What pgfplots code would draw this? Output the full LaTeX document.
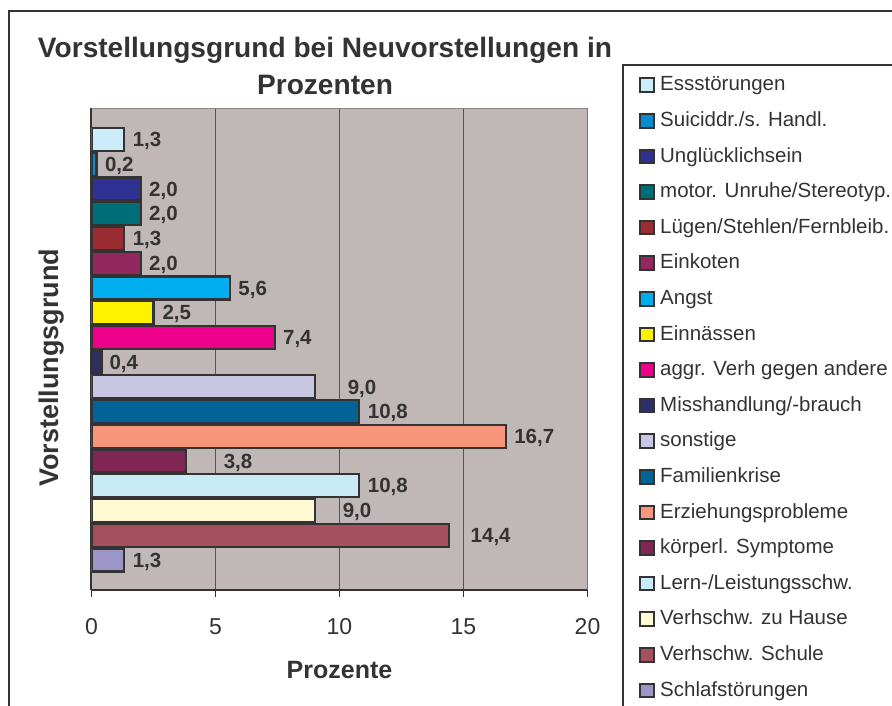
\documentclass[border=0pt]{standalone}
\usepackage{fontspec}
\setmainfont{Liberation Sans}
\usepackage{pgfplots}
\pgfplotsset{compat=1.18}

\definecolor{plotbg}{HTML}{C0B8B6}
\definecolor{plotframe}{HTML}{8E8484}
\definecolor{ink}{HTML}{333333}
\definecolor{gridc}{HTML}{555555}
\definecolor{cEss}{HTML}{CCECFA}
\definecolor{cSui}{HTML}{0A8CD2}
\definecolor{cUng}{HTML}{2E3192}
\definecolor{cMot}{HTML}{006E78}
\definecolor{cLue}{HTML}{9B2D32}
\definecolor{cEink}{HTML}{93285F}
\definecolor{cAngst}{HTML}{00AEEF}
\definecolor{cEinn}{HTML}{FFF200}
\definecolor{cAggr}{HTML}{EC008C}
\definecolor{cMiss}{HTML}{2E2F66}
\definecolor{cSon}{HTML}{C8C6E2}
\definecolor{cFam}{HTML}{006496}
\definecolor{cErz}{HTML}{F7967A}
\definecolor{cKoer}{HTML}{7F2654}
\definecolor{cLern}{HTML}{C9EBF8}
\definecolor{cHaus}{HTML}{FFF9D4}
\definecolor{cSchu}{HTML}{A5505C}
\definecolor{cSchl}{HTML}{9C96C8}

% one bar per series, as in the Excel original
\pgfplotsset{
  hb/.style 2 args={xbar, bar shift=0pt, bar width=23pt, draw=ink, line width=2.2pt, fill=#1,
    nodes near coords style={xshift=#2},
    legend image code/.code={\draw[##1, line width=2pt] (0pt,-1pt) rectangle (14pt,12.5pt);}},
}

\begin{document}
\begin{tikzpicture}
\useasboundingbox (0pt,0pt) rectangle (892pt,-706pt);
\clip (0pt,0pt) rectangle (892pt,-706pt);

% outer chart frame and legend frame (cut off at the image edge)
\draw[ink, line width=1.3pt] (9pt,-720pt) -- (9pt,-11pt) -- (900pt,-11pt);
\draw[ink, line width=1.3pt] (623pt,-720pt) -- (623pt,-65pt) -- (900pt,-65pt);

\node[anchor=base, text=ink, font=\bfseries\fontsize{28.1}{33}\selectfont] at (325pt,-58pt) {Vorstellungsgrund bei Neuvorstellungen in};
\node[anchor=base, text=ink, font=\bfseries\fontsize{28.1}{33}\selectfont] at (325pt,-95pt) {Prozenten};

\begin{axis}[
  at={(91.5pt,-590pt)}, anchor=south west,
  scale only axis, width=496pt, height=482pt,
  xmin=0, xmax=20, ymin=-0.213, ymax=19.273,
  axis x line*=bottom, axis y line*=left,
  axis line style={ink, line width=2pt},
  axis background/.style={fill=plotbg},
  xtick={0,5,10,15,20}, ytick=\empty,
  /pgf/number format/assume math mode=true,
  xmajorgrids, grid style={gridc, line width=1.1pt},
  tick align=outside, major tick length=7pt,
  tick style={ink, line width=1.1pt},
  xticklabel style={font=\fontsize{23}{27}\selectfont, text=ink, inner sep=0pt, anchor=north, yshift=-21pt},
  xlabel={Prozente},
  xlabel style={at={(axis description cs:0.5,-0.166)}, anchor=center, text depth=0pt,
    font=\bfseries\fontsize{25}{30}\selectfont, text=ink},
  ylabel={Vorstellungsgrund},
  ylabel style={at={(axis description cs:-0.0853,0.4606)}, anchor=center, rotate=0, text depth=0pt,
    font=\bfseries\fontsize{27}{32}\selectfont, text=ink},
  point meta=x,
  nodes near coords={\pgfmathprintnumber[fixed, fixed zerofill, precision=1, use comma, assume math mode=true]{\pgfplotspointmeta}},
  every node near coord/.append style={font=\bfseries\fontsize{20.5}{24}\selectfont, text=ink,
    anchor=west, inner sep=0pt, text depth=0pt},
  legend style={at={(axis description cs:1.1038,1.0670)}, anchor=north west,
    draw=none, fill=none, inner sep=0pt, column sep=5pt, row sep=16.1pt,
    font=\fontsize{20.5}{24}\selectfont, text=ink,
    nodes={inner sep=0pt, text height=15pt, text depth=4.5pt},
    cells={anchor=base west}},
]
\addplot[hb={cEss}{8pt}]     coordinates {(1.3,18)}; \addlegendentry{Essstörungen}
\addplot[hb={cSui}{7.5pt}]   coordinates {(0.2,17)}; \addlegendentry{Suiciddr./s. Handl.}
\addplot[hb={cUng}{7pt}]     coordinates {(2.0,16)}; \addlegendentry{Unglücklichsein}
\addplot[hb={cMot}{7pt}]     coordinates {(2.0,15)}; \addlegendentry{motor. Unruhe/Stereotyp.}
\addplot[hb={cLue}{8pt}]     coordinates {(1.3,14)}; \addlegendentry{Lügen/Stehlen/Fernbleib.}
\addplot[hb={cEink}{7pt}]    coordinates {(2.0,13)}; \addlegendentry{Einkoten}
\addplot[hb={cAngst}{7pt}]   coordinates {(5.6,12)}; \addlegendentry{Angst}
\addplot[hb={cEinn}{8pt}]    coordinates {(2.5,11)}; \addlegendentry{Einnässen}
\addplot[hb={cAggr}{7pt}]    coordinates {(7.4,10)}; \addlegendentry{aggr. Verh gegen andere}
\addplot[hb={cMiss}{7pt}]    coordinates {(0.4,9)};  \addlegendentry{Misshandlung/-brauch}
\addplot[hb={cSon}{32pt}]    coordinates {(9.0,8)};  \addlegendentry{sonstige}
\addplot[hb={cFam}{7.5pt}]   coordinates {(10.8,7)}; \addlegendentry{Familienkrise}
\addplot[hb={cErz}{7.5pt}]   coordinates {(16.7,6)}; \addlegendentry{Erziehungsprobleme}
\addplot[hb={cKoer}{37pt}]   coordinates {(3.8,5)};  \addlegendentry{körperl. Symptome}
\addplot[hb={cLern}{7.5pt}]  coordinates {(10.8,4)}; \addlegendentry{Lern-/Leistungsschw.}
\addplot[hb={cHaus}{27pt}]   coordinates {(9.0,3)};  \addlegendentry{Verhschw. zu Hause}
\addplot[hb={cSchu}{21pt}]   coordinates {(14.4,2)}; \addlegendentry{Verhschw. Schule}
\addplot[hb={cSchl}{8pt}]    coordinates {(1.3,1)};  \addlegendentry{Schlafstörungen}
\draw[plotframe, line width=2pt] (rel axis cs:0,1) -- (rel axis cs:1,1) -- (rel axis cs:1,0);
\end{axis}
\end{tikzpicture}
\end{document}
